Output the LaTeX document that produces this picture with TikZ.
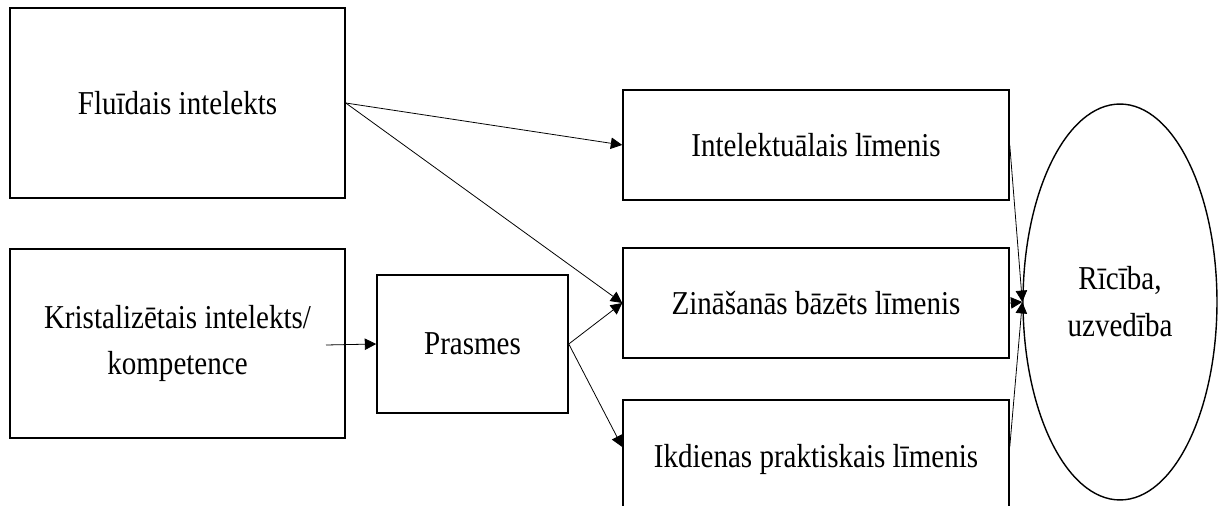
\documentclass[tikz,border=0pt]{standalone}
\usepackage{fontspec}
\setmainfont[FakeStretch=0.87]{Liberation Serif}
\usetikzlibrary{arrows.meta,shapes.geometric}
\begin{document}
\begin{tikzpicture}[
	x=0.02cm, y=-0.02cm,
	box/.style={ draw, line width=0.9pt, inner sep=0pt, align=center, font=\fontsize{19}{26.7}\selectfont },
	oval/.style={ ellipse, draw, line width=0.8pt, inner sep=0pt, align=center, minimum width=3.88cm, minimum height=7.92cm, font=\fontsize{19}{26.7}\selectfont },
	arr/.style={ -{Triangle[length=6.5pt,width=6.5pt]}, line width=0.45pt }
]
\useasboundingbox (0,0) rectangle (1218,506);
\clip (0,0) rectangle (1218,506);

% left column
\node at (177.5,103) (fluid) [box,minimum width=6.7cm,minimum height=3.8cm] {Fluīdais intelekts};
\node at (177.5,343.5) (krist) [box,minimum width=6.7cm,minimum height=3.78cm] {Kristalizētais intelekts/\\kompetence};
\coordinate (kout) at (326,345);

% middle
\node at (472.5,344) (prasmes) [box,minimum width=3.82cm,minimum height=2.76cm] {Prasmes};

% levels
\node at (816,145) (intel) [box,minimum width=7.72cm,minimum height=2.2cm] {Intelektuālais līmenis};
\node at (816,303) (zin) [box,minimum width=7.72cm,minimum height=2.2cm] {Zināšanās bāzēts līmenis};
\node at (816,459) (ikd) [box,minimum width=7.72cm,minimum height=2.36cm] {Ikdienas praktiskais līmenis};
\coordinate (ikdin) at ([yshift=0.24cm]ikd.west);
\coordinate (ikdout) at ([yshift=0.24cm]ikd.east);

% behaviour
\node at (1120,302) (ricib) [oval] {Rīcība,\\uzvedība};

% connectors
\foreach \p in {intel,zin} \draw[arr] (fluid.east) -- (\p.west);
\draw[arr] (kout) -- (prasmes.west);
\foreach \p in {zin.west,ikdin} \draw[arr] (prasmes.east) -- (\p);
\foreach \p in {intel.east,zin.east,ikdout} \draw[arr] (\p) -- (ricib.west);

\end{tikzpicture}
\end{document}
